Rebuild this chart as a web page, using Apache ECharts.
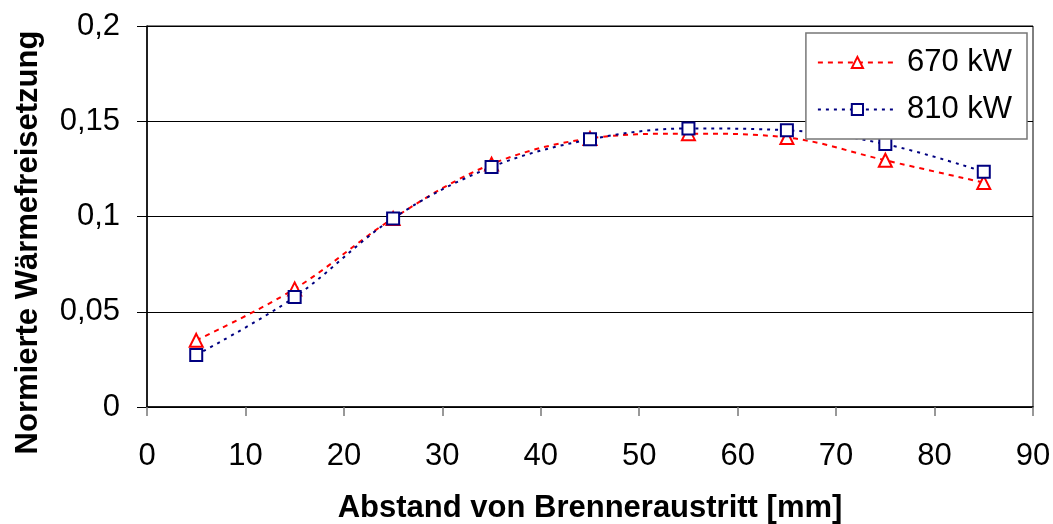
<!DOCTYPE html>
<html><head><meta charset="utf-8">
<script src="https://cdn.jsdelivr.net/npm/echarts@6/dist/echarts.min.js"></script>
<style>html,body{margin:0;padding:0;background:#fff}#c{width:1053px;height:524px}</style>
</head><body><div id="c"></div>
<script>
const xValues = [5, 15, 25, 35, 45, 55, 65, 75, 85];
const series670 = [0.035, 0.062, 0.099, 0.1275, 0.141, 0.1435, 0.1415, 0.1295, 0.1178];
const series810 = [0.0273, 0.0577, 0.099, 0.126, 0.1405, 0.1462, 0.1453, 0.138, 0.1235];
const seriesNames = ['670 kW', '810 kW'];
const xTitle = 'Abstand von Brenneraustritt [mm]';
const yTitle = 'Normierte Wärmefreisetzung';

const font = 'Liberation Sans, Arial, sans-serif';
const chart = echarts.init(document.getElementById('c'));
const pairs = a => xValues.map((x, i) => [x, a[i]]);
chart.setOption({
  animation: false,
  grid: {left: 147, right: 20, top: 26, bottom: 117, show: true, borderColor: '#000', borderWidth: 1,
    containLabel: false, outerBoundsMode: 'none'},
  legend: {
    right: 26, top: 33, orient: 'vertical', itemGap: 16, padding: [14, 15, 14, 11],
    backgroundColor: '#fff', borderColor: '#777', borderWidth: 1.5,
    itemWidth: 79, itemHeight: 14,
    textStyle: {fontFamily: font, fontSize: 31, color: '#000', padding: [0, 0, 0, 5]},
    data: seriesNames
  },
  xAxis: {
    type: 'value', min: 0, max: 90, interval: 10,
    name: xTitle, nameLocation: 'middle', nameGap: 86,
    nameTextStyle: {fontFamily: font, fontSize: 31, fontWeight: 'bold', color: '#000'},
    axisLine: {lineStyle: {color: '#000', width: 1.5}},
    axisTick: {show: true, length: 9, lineStyle: {color: '#777', width: 1.5}},
    axisLabel: {fontFamily: font, fontSize: 31, color: '#000', margin: 34},
    splitLine: {show: false}
  },
  yAxis: {
    type: 'value', min: 0, max: 0.2, interval: 0.05,
    name: yTitle, nameLocation: 'middle', nameGap: 103, nameRotate: 90,
    nameTextStyle: {fontFamily: font, fontSize: 31, fontWeight: 'bold', color: '#000', padding: [0, 52, 0, 0]},
    axisLine: {show: true, lineStyle: {color: '#000', width: 1.5}},
    axisTick: {show: true, length: 10, lineStyle: {color: '#000', width: 1}},
    axisLabel: {fontFamily: font, fontSize: 31, color: '#000', margin: 27,
      formatter: v => String(+v.toFixed(2)).replace('.', ',')},
    splitLine: {show: true, lineStyle: {color: '#000', width: 1}}
  },
  series: [
    {
      name: seriesNames[0], type: 'line', data: pairs(series670), smooth: 0.35,
      symbol: 'triangle', symbolSize: 13,
      itemStyle: {color: '#fff', borderColor: '#ff0000', borderWidth: 2},
      lineStyle: {color: '#ff0000', width: 2, type: [5, 5]}
    },
    {
      name: seriesNames[1], type: 'line', data: pairs(series810), smooth: 0.35,
      symbol: 'rect', symbolSize: 12,
      itemStyle: {color: '#fff', borderColor: '#000080', borderWidth: 2},
      lineStyle: {color: '#000080', width: 2, type: [3, 5]}
    }
  ]
});
</script></body></html>
